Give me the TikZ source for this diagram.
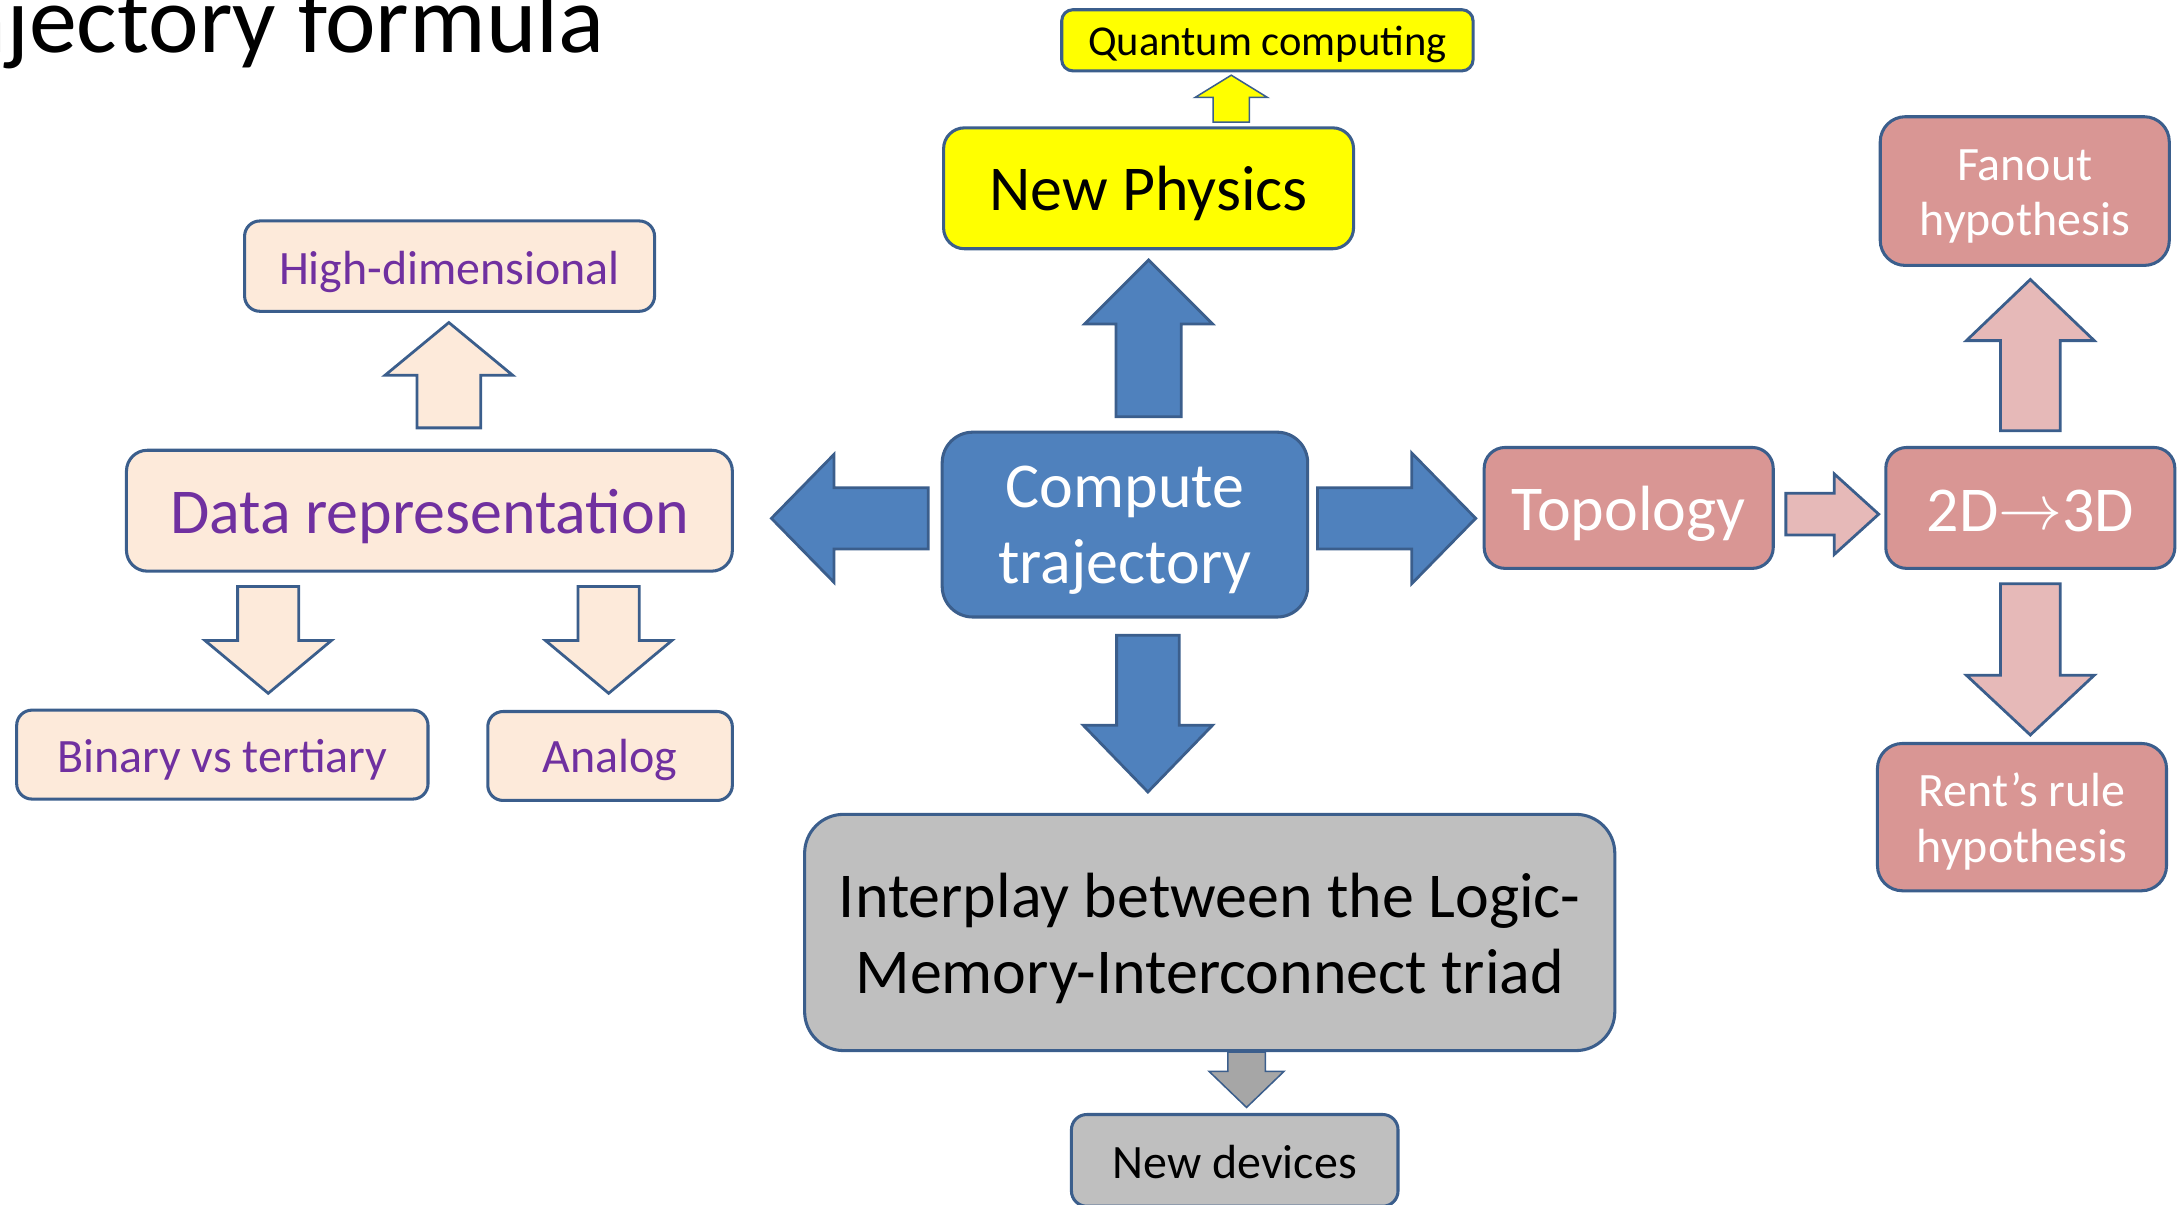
\documentclass[tikz,border=0pt]{standalone}
\usepackage{fontspec}
\usepackage{graphicx}
\setmainfont{Carlito}
\usetikzlibrary{calc}

\definecolor{edge}{HTML}{3B5E8C}
\definecolor{blueF}{HTML}{4F81BD}
\definecolor{peach}{HTML}{FDEADA}
\definecolor{purp}{HTML}{7030A0}
\definecolor{rose}{HTML}{D99694}
\definecolor{roseL}{HTML}{E6B9B8}
\definecolor{greyF}{HTML}{BFBFBF}
\definecolor{greyA}{HTML}{A6A6A6}
\definecolor{yel}{HTML}{FFFF00}

\newcommand\fsz[2]{\fontsize{#1}{#2}\selectfont}

% block arrow: style, start, tip, shaft half width, head half width, head length
\newcommand\blockarrow[6]{%
  \coordinate (ba-s) at #2;
  \coordinate (ba-t) at #3;
  \coordinate (ba-h) at ($(ba-t)!#6!(ba-s)$);
  \draw[#1] ($(ba-s)!#4!90:(ba-t)$) -- ($(ba-h)!#4!90:(ba-t)$)
    -- ($(ba-h)!#5!90:(ba-t)$) -- (ba-t) -- ($(ba-h)!#5!-90:(ba-t)$)
    -- ($(ba-h)!#4!-90:(ba-t)$) -- ($(ba-s)!#4!-90:(ba-t)$) -- cycle;
}

\tikzset{
  box/.style={draw=edge, line width=2.2pt, inner sep=0pt},
  peachbox/.style={box, fill=peach},
  rosebox/.style={box, fill=rose},
  lbl/.style={inner sep=0pt, align=center},
  big/.style={font=\fsz{46}{55}},
  small/.style={font=\fsz{34.5}{40}},
  arr/.style={draw=edge, line width=2pt, line join=miter},
  bluearr/.style={arr, fill=blueF},
  peacharr/.style={arr, fill=peach},
  rosearr/.style={arr, fill=roseL},
  thinarr/.style={draw=edge, line width=1.1pt, line join=miter},
}

\begin{document}
\begin{tikzpicture}[x=1pt,y=-1pt]
\useasboundingbox (0,0) rectangle (1568,867);

% slide title, running off the left edge
\begin{scope}
  \clip (0,0) rectangle (1568,867);
  \node[anchor=base east, inner sep=0pt, font=\fsz{69}{80}] (title) at (435,38) {Trajectory formula};
\end{scope}

% centre
\node[box, fill=blueF, minimum width=263pt, minimum height=133pt,
      rounded corners=22pt] (cmp) at (809.5,377.5) {};
\node[lbl, big, text=white] (cmp-t) at ($(cmp.center)+(0,4)$) {Compute\\trajectory};

% upper branch
\node[box, fill=yel, minimum width=295pt, minimum height=87pt,
      rounded corners=15pt] (np) at (826.5,135.5) {};
\node[lbl, big] (np-t) at ($(np.center)+(0,4)$) {New Physics};
\node[box, fill=yel, minimum width=296pt, minimum height=44pt,
      rounded corners=8pt] (qc) at (912,29) {};
\node[lbl, font=\fsz{30.6}{36}] (qc-t) at ($(qc.center)+(0,3)$) {Quantum computing};

% left branch
\node[peachbox, minimum width=436pt, minimum height=87pt,
      rounded corners=15pt] (dr) at (309,367.5) {};
\node[lbl, big, text=purp] (dr-t) at ($(dr.center)+(0,4)$) {Data representation};
\node[peachbox, minimum width=295pt, minimum height=65pt,
      rounded corners=11pt] (hd) at (323.5,191.5) {};
\node[lbl, small, text=purp] (hd-t) at ($(hd.center)+(0,4)$) {High-dimensional};
\node[peachbox, minimum width=296pt, minimum height=64pt,
      rounded corners=11pt] (bt) at (160,543) {};
\node[lbl, small, text=purp] (bt-t) at ($(bt.center)+(0,4)$) {Binary vs tertiary};
\node[peachbox, minimum width=176pt, minimum height=64pt,
      rounded corners=11pt] (an) at (439,544) {};
\node[lbl, small, text=purp] (an-t) at ($(an.center)+(0,3)$) {Analog};

% right branch
\node[rosebox, minimum width=208pt, minimum height=87pt,
      rounded corners=15pt] (top) at (1172,365.5) {};
\node[lbl, big, text=white] (top-t) at ($(top.center)+(0,4.5)$) {Topology};
\node[rosebox, minimum width=208pt, minimum height=87pt,
      rounded corners=15pt] (d23) at (1461,365.5) {};
\node[lbl, big, text=white] (d23-t) at ($(d23.center)+(0,2)$)
      {2D\raisebox{0.02em}{\scalebox{1.85}{$\rightarrow$}}3D};
\node[rosebox, minimum width=208pt, minimum height=107pt,
      rounded corners=18pt] (fan) at (1457,137.5) {};
\node[lbl, small, text=white] (fan-t) at ($(fan.center)+(0,4)$) {Fanout\\hypothesis};
\node[rosebox, minimum width=208pt, minimum height=106pt,
      rounded corners=18pt] (rent) at (1455,588) {};
\node[lbl, small, text=white] (rent-t) at ($(rent.center)+(0,3)$) {Rent’s rule\\hypothesis};

% lower branch
\node[box, fill=greyF, minimum width=583pt, minimum height=170pt,
      rounded corners=28pt] (ip) at (870.5,671) {};
\node[lbl, big] (ip-t) at ($(ip.center)+(0,4.5)$)
      {Interplay between the Logic-\\Memory-Interconnect triad};
\node[box, fill=greyF, minimum width=235pt, minimum height=66pt,
      rounded corners=11pt] (nd) at (888.5,835) {};
\node[lbl, small] (nd-t) at ($(nd.center)+(0,1.5)$) {New devices};

% block arrows
\blockarrow{bluearr}{($(np.south |- cmp.north)+(0,-10)$)}{($(np.south)+(0,7)$)}{23.5pt}{46pt}{46pt}
\blockarrow{bluearr}{($(cmp.west)+(-9,-4.5)$)}{($(dr.east)+(27,5.5)$)}{22pt}{46pt}{45pt}
\blockarrow{bluearr}{($(cmp.east)+(6,-4.5)$)}{($(top.west)+(-5,7.5)$)}{22pt}{47pt}{46pt}
\blockarrow{bluearr}{($(cmp.south)+(16.5,12)$)}{($(ip.north)+(-44.5,-15)$)}{22.5pt}{46.5pt}{48pt}

\blockarrow{thinarr, fill=yel}{($(np.north)+(59.5,-3)$)}{($(qc.south)+(-26,2)$)}{13pt}{26pt}{16pt}

\blockarrow{peacharr}{($(dr.north)+(14,-15)$)}{($(hd.south)+(-0.5,7)$)}{23pt}{46pt}{38pt}
\blockarrow{peacharr}{($(dr.south)+(-116,10)$)}{($(bt.north)+(33,-11)$)}{22pt}{45.5pt}{38pt}
\blockarrow{peacharr}{($(dr.south)+(129,10)$)}{($(an.north)+(-1,-12)$)}{22pt}{45.5pt}{38pt}

\blockarrow{rosearr}{($(top.east)+(8,4.5)$)}{($(d23.west)+(-4,4.5)$)}{15pt}{29pt}{32pt}
\blockarrow{rosearr}{($(d23.north)+(0,-11)$)}{($(fan.south)+(4,9)$)}{21.5pt}{46pt}{44pt}
\blockarrow{rosearr}{($(d23.south)+(0,10)$)}{($(rent.north)+(6,-5)$)}{21.5pt}{46pt}{43pt}

\blockarrow{thinarr, fill=greyA}{($(ip.south)+(26.5,0)$)}{($(nd.north)+(8.5,-4)$)}{13.5pt}{27pt}{26pt}
\end{tikzpicture}
\end{document}
